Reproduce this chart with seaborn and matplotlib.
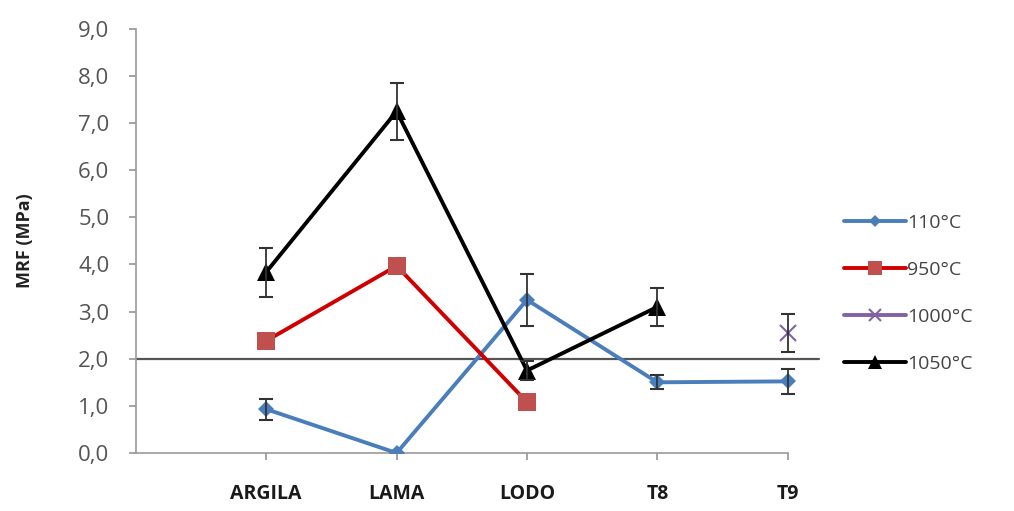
import numpy as np
import pandas as pd
import matplotlib
matplotlib.use("Agg")
import matplotlib.pyplot as plt
import seaborn as sns
from matplotlib.lines import Line2D

categories = ["ARGILA", "LAMA", "LODO", "T8", "T9"]
series_names = ["110°C", "950°C", "1000°C", "1050°C"]

v110 = [0.93, 0.0, 3.25, 1.50, 1.52]
e110 = [0.22, 0.0, 0.55, 0.15, 0.27]
v950 = [2.38, 3.97, 1.08, np.nan, np.nan]
e950 = [0.0, 0.0, 0.0, np.nan, np.nan]
v1000 = [np.nan, np.nan, np.nan, np.nan, 2.55]
e1000 = [np.nan, np.nan, np.nan, np.nan, 0.40]
v1050 = [3.84, 7.25, 1.75, 3.10, np.nan]
e1050 = [0.52, 0.60, 0.20, 0.40, np.nan]

ref_line = 2.0
yticks = np.arange(0, 9.01, 1.0)

sns.set_theme(style="white")
plt.rcParams['font.family'] = ['Open Sans', 'DejaVu Sans']

values = [v110, v950, v1000, v1050]
errors = [e110, e950, e1000, e1050]
colors = ["#4A7EBB", "#D00000", "#8064A2", "#000000"]
mfc = ["#4A7EBB", "#C0504D", "#8064A2", "#000000"]
markers = ["D", "s", "x", "^"]
msizes = [8, 13, 11, 13]

rows = []
for name, vals in zip(series_names, values):
    for i, v in enumerate(vals):
        rows.append({"series": name, "x": i, "val": v})
df = pd.DataFrame(rows)

fig = plt.figure(figsize=(10.14, 5.11), dpi=100)
ax = fig.add_axes([0.134, 0.1135, 0.675, 0.83])

ax.plot([-1, 4.24], [ref_line, ref_line], color="#555555", lw=1.6, zorder=1)

for name, vals, errs, c, fc, m, ms in zip(series_names, values, errors, colors, mfc, markers, msizes):
    sub = df[df["series"] == name].dropna()
    sns.lineplot(data=sub, x="x", y="val", ax=ax, color=c, lw=2.8,
                 marker=m, markersize=ms, markerfacecolor=fc,
                 markeredgecolor=fc, markeredgewidth=1.5 if m == "x" else 0,
                 zorder=3, legend=False)
    x = np.arange(len(vals))
    ev = np.array(errs, dtype=float)
    vv = np.array(vals, dtype=float)
    mask = ~np.isnan(vv) & (np.nan_to_num(ev) > 0)
    ax.errorbar(x[mask], vv[mask], yerr=ev[mask], fmt="none",
                ecolor="#333333", elinewidth=1.3, capsize=5, capthick=1.5, zorder=4)

ax.set_xlim(-1, 4.25)
ax.set_ylim(0, 9)
ax.set_xticks(range(len(categories)))
ax.set_xticklabels(categories, fontweight="bold", fontsize=14, color="#1a1a1a")
ax.set_yticks(yticks)
ax.set_yticklabels([f"{t:.1f}".replace(".", ",") for t in yticks], fontsize=16, color="#555555")
ax.set_xlabel("")
ax.set_ylabel("MRF (MPa)", fontweight="bold", fontsize=13, color="#222222", labelpad=32)

for s in ["top", "right"]:
    ax.spines[s].set_visible(False)
ax.spines["left"].set_color("#999999")
ax.spines["bottom"].set_color("#999999")
ax.spines["left"].set_linewidth(1.2)
ax.spines["bottom"].set_linewidth(1.2)
ax.spines["bottom"].set_bounds(-1, 4)
ax.tick_params(axis="x", direction="out", length=5, color="#999999", pad=17, bottom=True)
ax.tick_params(axis="y", direction="out", length=5, color="#999999", pad=14, left=True)

handles = []
for name, c, fc, m, ms in zip(series_names, colors, mfc, markers, msizes):
    handles.append(Line2D([0], [0], color=c, lw=2.8, marker=m, markersize=ms * 0.8,
                          markerfacecolor=fc, markeredgecolor=fc,
                          markeredgewidth=1.5 if m == "x" else 0))
leg = fig.legend(handles, series_names, loc="center left", bbox_to_anchor=(0.815, 0.426),
                 frameon=False, handlelength=3.2, handletextpad=0.05, labelspacing=1.5,
                 fontsize=14)
for t in leg.get_texts():
    t.set_color("#444444")

fig.savefig("out.png", dpi=100)
